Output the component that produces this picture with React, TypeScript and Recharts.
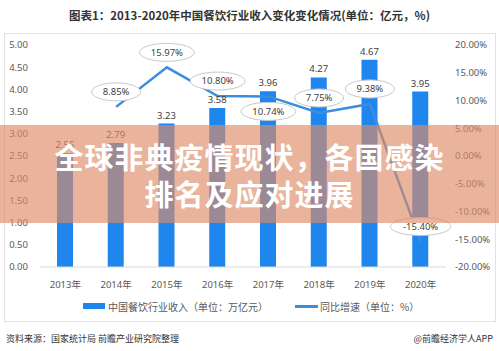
import React from 'react'
import {
  ComposedChart,
  Bar,
  Line,
  XAxis,
  YAxis,
  LabelList,
} from 'recharts'

const years = ['2013年', '2014年', '2015年', '2016年', '2017年', '2018年', '2019年', '2020年']
const revenue = [2.56, 2.79, 3.23, 3.58, 3.96, 4.27, 4.67, 3.95]
const growth: (number | null)[] = [null, 8.85, 15.97, 10.8, 10.74, 7.75, 9.38, -15.4]
const leftTicks = [0, 0.5, 1, 1.5, 2, 2.5, 3, 3.5, 4, 4.5, 5]
const rightTicks = [-20, -15, -10, -5, 0, 5, 10, 15, 20]

const data = years.map((year, i) => ({ year, revenue: revenue[i], growth: growth[i] }))

const BAR_COLOR = '#1f86ee'
const LINE_COLOR = '#3a8ee0'
const TICK_STYLE = { fontSize: 9.5, fill: '#595959' }
const FONT = '"Noto Sans", "Noto Sans CJK SC", sans-serif'

// labels that sit under the point instead of over it
const labelsBelow = new Set(['2017年'])

function GrowthLabel(props: any) {
  const { x, y, value, index } = props
  if (value === null || value === undefined) return null
  const text = `${Number(value).toFixed(2)}%`
  const below = labelsBelow.has(years[index])
  const cy = below ? y + 15 : y - 15
  const rx = text.length * 2.9 + 10
  return (
    <g>
      <ellipse cx={x} cy={cy} rx={rx} ry={9} fill="#ffffff" stroke="#c8c8c8" strokeWidth={1} />
      <text x={x} y={cy} dy={3.3} textAnchor="middle" fontSize={9.5} fill="#404040">
        {text}
      </text>
    </g>
  )
}

export default function App() {
  return (
    <div
      style={{
        position: 'absolute',
        left: 0,
        top: 0,
        width: 499,
        height: 351,
        background: '#ffffff',
        overflow: 'hidden',
        fontFamily: FONT,
      }}
    >
      <div
        style={{
          position: 'absolute',
          top: 7,
          left: 0,
          width: 499,
          textAlign: 'center',
          fontSize: 11.5,
          fontWeight: 'bold',
          color: '#333333',
          fontFamily: '"Noto Sans CJK SC", sans-serif',
        }}
      >
        图表1：2013-2020年中国餐饮行业收入变化变化情况(单位：亿元，%)
      </div>

      <div
        style={{
          position: 'absolute',
          left: 4,
          top: 33,
          width: 492,
          height: 289,
          boxSizing: 'border-box',
          border: '1px solid #e2e2e2',
        }}
      />

      <div style={{ position: 'absolute', left: 4, top: 33 }}>
        <ComposedChart
          width={492}
          height={289}
          data={data}
          margin={{ top: 12, right: 0, left: 0, bottom: 25 }}
        >
          <XAxis
            dataKey="year"
            tickLine={false}
            axisLine={{ stroke: '#d9d9d9' }}
            tick={TICK_STYLE}
            tickMargin={8}
            height={30}
            interval={0}
          />
          <YAxis
            yAxisId="left"
            domain={[0, 5]}
            ticks={leftTicks}
            tickFormatter={(v: number) => v.toFixed(2)}
            axisLine={false}
            tickLine={false}
            tickSize={0}
            tickMargin={12}
            width={36}
            tick={TICK_STYLE}
          />
          <YAxis
            yAxisId="right"
            orientation="right"
            domain={[-20, 20]}
            ticks={rightTicks}
            tickFormatter={(v: number) => `${v.toFixed(2)}%`}
            axisLine={false}
            tickLine={false}
            tickSize={0}
            tickMargin={9}
            width={50}
            tick={TICK_STYLE}
          />
          <Bar yAxisId="left" dataKey="revenue" fill={BAR_COLOR} barSize={16} isAnimationActive={false}>
            <LabelList dataKey="revenue" position="top" offset={5} fontSize={9.5} fill="#404040" formatter={(v: any) => Number(v).toFixed(2)} />
          </Bar>
          <Line
            yAxisId="right"
            dataKey="growth"
            type="linear"
            stroke={LINE_COLOR}
            strokeWidth={2.5}
            dot={false}
            activeDot={false}
            isAnimationActive={false}
          >
            <LabelList dataKey="growth" content={GrowthLabel} />
          </Line>
        </ComposedChart>
      </div>

      <div
        style={{
          position: 'absolute',
          top: 299,
          left: 0,
          width: 499,
          height: 14,
          fontSize: 10,
          color: '#595959',
          fontFamily: '"Noto Sans CJK SC", sans-serif',
        }}
      >
        <span style={{ position: 'absolute', left: 83, top: 4, width: 22, height: 6, background: BAR_COLOR }} />
        <span style={{ position: 'absolute', left: 108, top: 0, whiteSpace: 'nowrap' }}>中国餐饮行业收入（单位：万亿元）</span>
        <span style={{ position: 'absolute', left: 295, top: 6, width: 23, height: 2.5, background: LINE_COLOR }} />
        <span style={{ position: 'absolute', left: 320, top: 0, whiteSpace: 'nowrap' }}>同比增速（单位：%）</span>
      </div>

      <div
        style={{
          position: 'absolute',
          top: 332,
          left: 6,
          fontSize: 9,
          color: '#333333',
          fontFamily: '"Noto Sans CJK SC", sans-serif',
          whiteSpace: 'nowrap',
        }}
      >
        资料来源：国家统计局 前瞻产业研究院整理
      </div>
      <div
        style={{
          position: 'absolute',
          top: 332,
          right: 6,
          fontSize: 9,
          color: '#333333',
          fontFamily: '"Noto Sans CJK SC", sans-serif',
          whiteSpace: 'nowrap',
        }}
      >
        @前瞻经济学人APP
      </div>

      <div
        style={{
          position: 'absolute',
          top: 125,
          left: 0,
          width: 499,
          height: 98,
          background: 'rgba(223, 138, 103, 0.65)',
        }}
      >
        <div
          style={{
            position: 'absolute',
            top: 13,
            left: 0,
            width: 499,
            textAlign: 'center',
            fontSize: 29,
            letterSpacing: 1,
            lineHeight: '37px',
            fontWeight: 'bold',
            color: '#ffffff',
            fontFamily: '"Noto Sans CJK SC", sans-serif',
          }}
        >
          全球非典疫情现状，各国感染
          <br />
          排名及应对进展
        </div>
      </div>
    </div>
  )
}
